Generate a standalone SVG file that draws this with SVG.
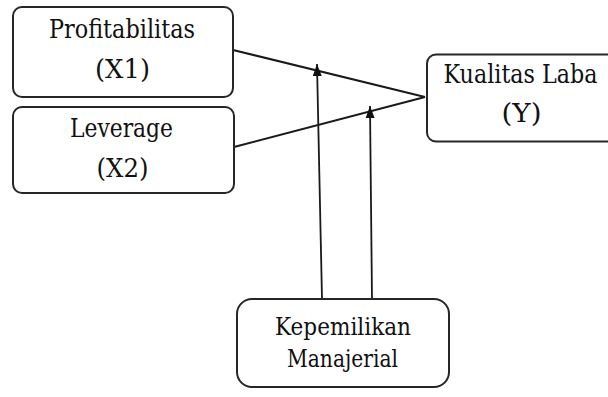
<svg xmlns="http://www.w3.org/2000/svg" width="608" height="397" viewBox="0 0 608 397">
<style>
.box{fill:#fff;stroke:#262626;stroke-width:2}
.t{fill:#111;text-anchor:middle;font-family:"DejaVu Serif","Liberation Serif",serif}
.big{font-size:25.5px}
.small{font-size:24px}
.c{stroke:#1a1a1a;stroke-width:2;fill:none}
.v{stroke:#1a1a1a;stroke-width:1.8;fill:none}
</style>
<defs>
<marker id="ah" viewBox="0 0 12 10" refX="12" refY="5" markerWidth="12" markerHeight="10" markerUnits="userSpaceOnUse" orient="auto">
<path d="M12,5 L0,0.5 L0,9.5 Z" fill="#111"/>
</marker>
</defs>
<g id="connectors">
<line class="c" x1="233" y1="50" x2="425" y2="97"/>
<line class="c" x1="234" y1="147" x2="425" y2="97"/>
<line class="v" x1="322" y1="299" x2="317" y2="64" marker-end="url(#ah)"/>
<line class="v" x1="372" y1="299" x2="370" y2="106" marker-end="url(#ah)"/>
</g>
<g id="node-x1">
<rect class="box" x="13" y="7" width="220" height="90" rx="9"/>
<text class="t big" x="122" y="38" textLength="146" lengthAdjust="spacingAndGlyphs">Profitabilitas</text>
<text class="t big" x="122.5" y="78" textLength="55" lengthAdjust="spacingAndGlyphs">(X1)</text>
</g>
<g id="node-x2">
<rect class="box" x="13" y="107" width="221" height="86" rx="9"/>
<text class="t big" x="121.5" y="137" textLength="103" lengthAdjust="spacingAndGlyphs">Leverage</text>
<text class="t big" x="122.5" y="177" textLength="52" lengthAdjust="spacingAndGlyphs">(X2)</text>
</g>
<g id="node-y">
<rect class="box" x="427" y="54.5" width="190" height="87" rx="9"/>
<text class="t big" x="520.5" y="83" textLength="154" lengthAdjust="spacingAndGlyphs">Kualitas Laba</text>
<text class="t big" x="521.5" y="122" textLength="40" lengthAdjust="spacingAndGlyphs">(Y)</text>
</g>
<g id="node-m">
<rect class="box" x="237" y="299" width="212" height="88" rx="15"/>
<text class="t small" x="343" y="335" textLength="136" lengthAdjust="spacingAndGlyphs">Kepemilikan</text>
<text class="t small" x="342.5" y="367" textLength="111" lengthAdjust="spacingAndGlyphs">Manajerial</text>
</g>
</svg>
